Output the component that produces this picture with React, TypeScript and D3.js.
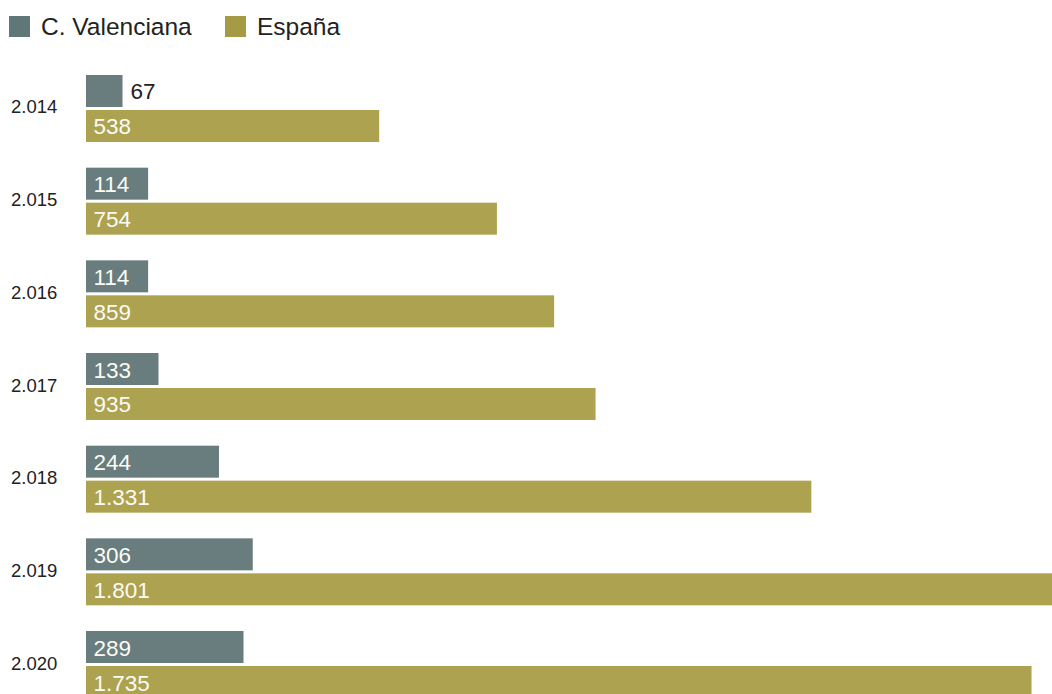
import React from "react";
import * as d3 from "d3";

const years = ["2.014", "2.015", "2.016", "2.017", "2.018", "2.019", "2.020"];
const series = ["C. Valenciana", "España"];
const valenciana = [67, 114, 114, 133, 244, 306, 289];
const espana = [538, 754, 859, 935, 1331, 1801, 1735];

const W = 1052;
const H = 694;
const barColors = ["#697d7e", "#ada250"];
const legendColors = ["#607777", "#a59b45"];
const FONT = "'Liberation Sans', Arial, Helvetica, sans-serif";

const fmt = (v: number) => {
  const s = String(v);
  return s.length > 3 ? s.slice(0, s.length - 3) + "." + s.slice(-3) : s;
};

export default function App() {
  const x = d3.scaleLinear().domain([0, 1801]).range([86, 1067.5]);
  const y0 = d3
    .scaleBand<string>()
    .domain(years)
    .range([75, 698])
    .paddingInner(0.277)
    .paddingOuter(0);
  const y1 = d3
    .scaleBand<string>()
    .domain(series)
    .range([0, y0.bandwidth()])
    .paddingInner(3 / 35)
    .paddingOuter(0);

  const data = years.map((yr, i) => ({
    year: yr,
    values: [valenciana[i], espana[i]],
  }));

  const legendX = [9, 225];

  return (
    <svg
      width={W}
      height={H}
      style={{ position: "absolute", left: 0, top: 0, fontFamily: FONT }}
    >
      <rect x={0} y={0} width={W} height={H} fill="#ffffff" />
      {series.map((s, i) => (
        <g key={s}>
          <rect x={legendX[i]} y={16} width={21} height={21} fill={legendColors[i]} />
          <text
            x={legendX[i] + 32}
            y={26.5}
            dominantBaseline="central"
            fontSize={24.5}
            fill="#222222"
          >
            {s}
          </text>
        </g>
      ))}
      {data.map((d) => {
        const gy = y0(d.year) as number;
        return (
          <g key={d.year}>
            <text
              x={11}
              y={gy + y0.bandwidth() / 2 - 1.5}
              dominantBaseline="central"
              fontSize={18.5}
              fill="#222222"
            >
              {d.year}
            </text>
            {d.values.map((v, j) => {
              const by = gy + (y1(series[j]) as number);
              const bw = x(v) - x(0);
              const inside = bw > 50;
              return (
                <g key={j}>
                  <rect
                    x={x(0)}
                    y={by}
                    width={bw}
                    height={y1.bandwidth()}
                    fill={barColors[j]}
                  />
                  <text
                    x={inside ? x(0) + 7.5 : x(v) + 8}
                    y={by + y1.bandwidth() / 2 + 1}
                    dominantBaseline="central"
                    fontSize={22.5}
                    fill={inside ? "#fbfbf5" : "#222222"}
                  >
                    {fmt(v)}
                  </text>
                </g>
              );
            })}
          </g>
        );
      })}
    </svg>
  );
}
